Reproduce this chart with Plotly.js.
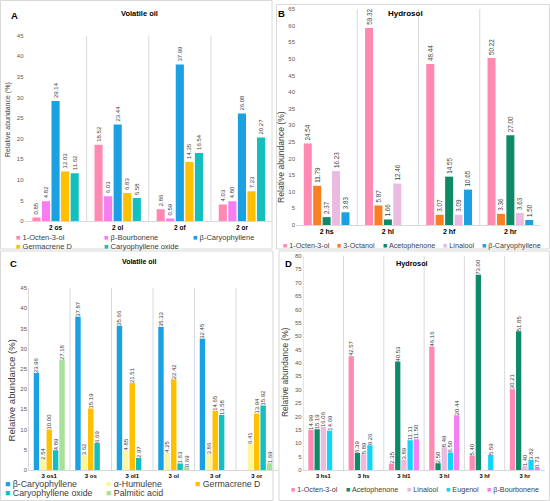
<!DOCTYPE html>
<html><head><meta charset="utf-8">
<script src="https://cdn.plot.ly/plotly-3.0.1.min.js"></script>
<style>html,body{margin:0;padding:0;background:#fff}</style>
</head><body><div id="chart" style="width:550px;height:501px"></div>
<script>
// ---------- Panel A : Volatile oil ----------
const catsA = ['2 os', '2 ol', '2 of', '2 or'];
const octenolA = [0.85, 18.52, 2.86, 4.03];
const bourboneneA = [4.82, 6.03, 0.59, 4.80];
const caryophylleneA = [29.14, 23.44, 37.99, 26.08];
const germacreneA = [12.03, 6.83, 14.35, 7.23];
const caryOxideA = [11.62, 5.58, 16.54, 20.27];
// ---------- Panel B : Hydrosol ----------
const catsB = ['2 hs', '2 hl', '2 hf', '2 hr'];
const octenolB = [24.54, 59.32, 48.44, 50.22];
const octanolB = [11.79, 5.87, 3.07, 3.36];
const acetophenoneB = [2.37, 1.66, 14.55, 27.00];
const linaloolB = [16.23, 12.46, 3.09, 3.63];
const caryophylleneB = [3.83, null, 10.65, 1.50];
// ---------- Panel C : Volatile oil ----------
const catsC = ['3 os1', '3 os', '3 ol1', '3 ol', '3 of', '3 or'];
const caryophylleneC = [23.96, 37.87, 35.66, 35.33, 32.45, null];
const humuleneC = [2.54, 3.62, 4.85, 4.25, 3.86, 6.41];
const germacreneC = [10.00, 15.19, 21.51, 22.42, 14.65, 13.94];
const caryOxideC = [4.89, 6.69, 2.97, 1.63, 13.58, 15.92];
const palmiticC = [27.18, null, null, 0.69, null, 1.69];
// ---------- Panel D : Hydrosol ----------
const catsD = ['3 hs1', '3 hs', '3 hl1', '3 hl', '3 hf', '3 hr'];
const octenolD = [14.99, 42.57, 2.35, 46.16, 5.40, 30.21];
const acetophenoneD = [15.19, 6.39, 40.53, 2.50, 73.00, 51.85];
const linaloolD = [16.06, 5.89, 3.89, 8.49, null, 1.40];
const eugenolD = [14.69, 9.26, 11.11, 6.50, 5.59, 3.82];
const bourboneneD = [null, null, 11.50, 20.44, null, 0.73];

const colors = {
  '1-Octen-3-ol': '#FF89B3',
  'β-Bourbonene': '#F77EF2',
  'β-Caryophyllene': '#1BA1E2',
  'Germacrene D': '#FFC000',
  'Caryophyllene oxide': '#14BFBE',
  '3-Octanol': '#FA7F22',
  'Acetophenone': '#0F8A69',
  'Linalool': '#EBBAE1',
  'α-Humulene': '#FCF79E',
  'Palmitic acid': '#A8E199',
  'Eugenol': '#14D3F8'
};

const W = 550, H = 501;
const px = x => x / W;
const py = y => 1 - y / H;
const FONT = '"Liberation Sans", Arial, sans-serif';

const panels = [
  { id: '', cats: catsA, yMax: 45, dom: [24.5, 273, 35.7, 221], catSize: 6.5, valSize: 6, leftLine: false,
    series: [['1-Octen-3-ol', octenolA], ['β-Bourbonene', bourboneneA], ['β-Caryophyllene', caryophylleneA],
             ['Germacrene D', germacreneA], ['Caryophyllene oxide', caryOxideA]],
    letter: ['A', 14, 15], title: ['Volatile oil', 139, 13.5, 7.5], ytitle: [8.5, 119.5, 7],
    legend: { size: 7.5, rows: [{ n: 3, xs: [15, 103, 192], y: 237 }, { n: 2, xs: [15, 103], y: 246 }] } },
  { id: '2', cats: catsB, yMax: 65, dom: [296, 541, 9, 225], catSize: 7, valSize: 6.3, leftLine: false,
    series: [['1-Octen-3-ol', octenolB], ['3-Octanol', octanolB], ['Acetophenone', acetophenoneB],
             ['Linalool', linaloolB], ['β-Caryophyllene', caryophylleneB]],
    letter: ['B', 281, 13.5], title: ['Hydrosol', 405.7, 14, 8], ytitle: [281, 157, 8.6],
    legend: { size: 7.2, rows: [{ n: 5, span: [282, 542], y: 245.7 }] } },
  { id: '3', cats: catsC, yMax: 45, dom: [28, 277.5, 288, 470], catSize: 6, valSize: 6, leftLine: true,
    series: [['β-Caryophyllene', caryophylleneC], ['α-Humulene', humuleneC], ['Germacrene D', germacreneC],
             ['Caryophyllene oxide', caryOxideC], ['Palmitic acid', palmiticC]],
    letter: ['C', 13.3, 263], title: ['Volatile oil', 140, 261, 7], ytitle: [10.5, 391, 9.6],
    legend: { size: 8.8, rows: [{ n: 3, xs: [4, 105, 194], y: 484 }, { n: 2, xs: [4, 105], y: 492.5 }] } },
  { id: '4', cats: catsD, yMax: 80, dom: [302.7, 545, 256, 470], catSize: 5.8, valSize: 6, leftLine: true,
    series: [['1-Octen-3-ol', octenolD], ['Acetophenone', acetophenoneD], ['Linalool', linaloolD],
             ['Eugenol', eugenolD], ['β-Bourbonene', bourboneneD]],
    letter: ['D', 288.3, 263], title: ['Hydrosol', 411.7, 263, 7.3], ytitle: [285, 372, 8.4],
    legend: { size: 7.2, rows: [{ n: 5, span: [290, 540], y: 489.3 }] } }
];

const canvas = document.createElement('canvas');
const ctx = canvas.getContext('2d');
function textWidth(t, size) { ctx.font = size + 'px "Liberation Sans"'; return ctx.measureText(t).width; }

const traces = [];
const layout = {
  width: W, height: H, margin: { l: 0, r: 0, t: 0, b: 0 },
  paper_bgcolor: '#ffffff', plot_bgcolor: 'rgba(0,0,0,0)',
  font: { family: FONT, color: '#404040' },
  barmode: 'group', bargap: 0.23, bargroupgap: 0.15,
  showlegend: false, annotations: [], shapes: []
};

// panel frames
[[0.5, 0.5, 272, 249], [276.5, 4.5, 549.5, 249], [0.5, 251, 273, 500.5], [279, 251, 549.5, 500.5]].forEach(b => {
  layout.shapes.push({ type: 'rect', xref: 'paper', yref: 'paper', x0: px(b[0]), x1: px(b[2]), y0: py(b[3]), y1: py(b[1]),
    line: { color: '#D9D9D9', width: 1 }, fillcolor: 'rgba(0,0,0,0)', layer: 'below' });
});

panels.forEach(p => {
  const xa = 'x' + p.id, ya = 'y' + p.id;
  p.series.forEach(([name, vals]) => {
    traces.push({
      type: 'bar', name: name, x: p.cats, y: vals, xaxis: xa, yaxis: ya,
      marker: { color: colors[name], line: { width: 0 } },
      texttemplate: '%{y:.2f}', textposition: 'outside', textangle: -90,
      textfont: { family: FONT, size: p.valSize, color: '#404040' },
      constraintext: 'none', cliponaxis: false, hoverinfo: 'x+y+name'
    });
  });
  layout['xaxis' + p.id] = {
    domain: [px(p.dom[0]), px(p.dom[1])], anchor: ya, type: 'category',
    showgrid: false, showline: true, linecolor: '#D9D9D9', linewidth: 1, ticks: '', zeroline: false,
    tickfont: { family: FONT, size: p.catSize, color: '#000000', weight: 'bold' }, fixedrange: true
  };
  layout['yaxis' + p.id] = {
    domain: [py(p.dom[3]), py(p.dom[2])], anchor: xa, range: [0, p.yMax], dtick: 5,
    showgrid: false, zeroline: false, showline: false, ticks: '',
    tickfont: { family: FONT, size: 6, color: '#595959' }, fixedrange: true
  };
  // category separators (between groups; left edge where the reference shows one)
  for (let i = p.leftLine ? 0 : 1; i < p.cats.length; i++) {
    layout.shapes.push({ type: 'line', xref: xa, yref: ya + ' domain', x0: i - 0.5, x1: i - 0.5, y0: 0, y1: 1,
      line: { color: '#D9D9D9', width: 1 }, layer: 'below' });
  }
  // panel letter
  layout.annotations.push({ xref: 'paper', yref: 'paper', x: px(p.letter[1]), y: py(p.letter[2]),
    xanchor: 'center', yanchor: 'middle', showarrow: false, text: p.letter[0],
    font: { family: FONT, size: 9.5, color: '#000000', weight: 'bold' } });
  // panel title
  layout.annotations.push({ xref: 'paper', yref: 'paper', x: px(p.title[1]), y: py(p.title[2]),
    xanchor: 'center', yanchor: 'middle', showarrow: false, text: p.title[0],
    font: { family: FONT, size: p.title[3], color: '#000000', weight: 'bold' } });
  // y-axis title
  layout.annotations.push({ xref: 'paper', yref: 'paper', x: px(p.ytitle[0]), y: py(p.ytitle[1]),
    xanchor: 'center', yanchor: 'middle', showarrow: false, textangle: -90, text: 'Relative abundance (%)',
    font: { family: FONT, size: p.ytitle[2], color: '#404040' } });
  // legend entries
  let k = 0;
  p.legend.rows.forEach(row => {
    const names = p.series.slice(k, k + row.n).map(s => s[0]);
    k += row.n;
    let xs = row.xs;
    if (!xs) {
      const ws = names.map(n => textWidth('■ ' + n, p.legend.size) + 2);
      const total = ws.reduce((a, b) => a + b, 0);
      const gap = (row.span[1] - row.span[0] - total) / (names.length - 1);
      xs = []; let cur = row.span[0];
      ws.forEach(w => { xs.push(cur); cur += w + gap; });
    }
    names.forEach((n, i) => {
      layout.annotations.push({ xref: 'paper', yref: 'paper', x: px(xs[i]), y: py(row.y),
        xanchor: 'left', yanchor: 'middle', showarrow: false, borderpad: 0,
        text: '<span style="color:' + colors[n] + '">■</span> ' + n,
        font: { family: FONT, size: p.legend.size, color: '#404040' } });
    });
  });
});

Plotly.newPlot('chart', traces, layout, { staticPlot: true, displayModeBar: false });
</script></body></html>
